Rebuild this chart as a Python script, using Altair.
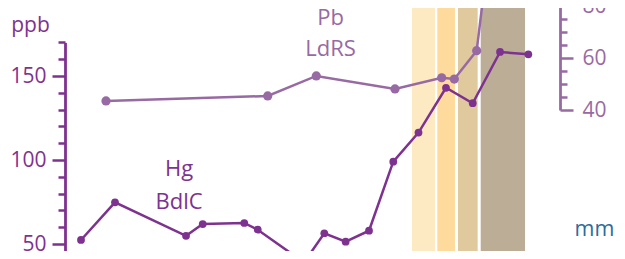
import altair as alt
import pandas as pd

# ---- data (x in mm) ----
hg_x = [1.94, 6.06, 14.67, 16.69, 21.73, 23.36, 28.97, 31.43, 34.02, 36.85,
        39.79, 42.85, 46.18, 49.42, 52.73, 56.16]
hg_ppb = [52.4, 74.8, 54.9, 61.9, 62.5, 58.5, 39.0, 56.4, 51.4, 57.9,
          99.0, 116.3, 143.0, 133.8, 164.3, 162.9]

pb_x = [4.97, 24.57, 30.46, 40.0, 45.66, 47.19, 49.90, 51.52, 55.64]
pb_ppm = [43.5, 45.4, 53.1, 48.1, 52.4, 51.9, 62.8, 105.0, 81.3]

band_start = [42.06, 45.13, 47.64, 50.39]
band_end = [44.85, 47.27, 50.02, 55.76]
band_colors = ["#fde9c2", "#fedb9c", "#dfc99d", "#bbad96"]

hg_label = ["Hg\nBdlC"]
hg_label_x = [13.82]
hg_label_v = [90.7]
pb_label = ["Pb\nLdRS"]
pb_label_x = [32.18]
pb_label_v = [72.7]

left_ticks = list(range(40, 171, 10))
right_ticks = list(range(40, 101, 5))

HG = "#7e3290"
PB = "#986aa3"
MM = "#2d6c9c"
FONT = "Open Sans"

hg_df = pd.DataFrame({"x": hg_x, "v": hg_ppb})
pb_df = pd.DataFrame({"x": pb_x, "v": pb_ppm})
band_df = pd.DataFrame({"x0": band_start, "x1": band_end, "c": band_colors})
hg_lab_df = pd.DataFrame({"x": hg_label_x, "v": hg_label_v, "t": hg_label})
pb_lab_df = pd.DataFrame({"x": pb_label_x, "v": pb_label_v, "t": pb_label})

x_scale = alt.Scale(domain=[0, 60], nice=False, zero=False)
x_axis = alt.Axis(domain=False, ticks=False, labels=False, grid=False,
                  title="mm", titleX=529, titleY=-16, titleAngle=0,
                  titleAlign="center", titleBaseline="alphabetic",
                  titleColor=MM, titleFont=FONT, titleFontSize=21.5,
                  titleFontWeight="normal")
x_enc = alt.X("x:Q", scale=x_scale, axis=x_axis)

left_scale = alt.Scale(domain=[40, 170], range=[252.8, 34.4], nice=False, zero=False)
left_axis = alt.Axis(
    orient="left", values=left_ticks, grid=False,
    labelExpr="datum.value % 50 === 0 ? datum.label : ''",
    tickSize={"condition": {"test": "datum.value % 50 === 0", "value": 13}, "value": 7},
    tickWidth=2.5, domainWidth=2.8, tickColor=HG, domainColor=HG,
    labelColor=HG, labelFont=FONT, labelFontSize=21, labelPadding=6,
    labelBaseline="middle",
    title="ppb", titleX=-35, titleY=23.5, titleAngle=0, titleAlign="center",
    titleBaseline="alphabetic", titleColor=HG, titleFont=FONT,
    titleFontSize=21, titleFontWeight="normal")
y_left = alt.Y("v:Q", scale=left_scale, axis=left_axis)

right_scale = alt.Scale(domain=[40, 120], range=[102, -106], nice=False, zero=False)
right_axis = alt.Axis(
    orient="right", values=right_ticks, grid=False,
    labelExpr="(datum.value % 20 === 0 && datum.value <= 80) ? datum.label : ''",
    tickSize={"condition": {"test": "datum.value % 20 === 0", "value": 13}, "value": 7},
    tickWidth=2.5, domainWidth=2.8, tickColor=PB, domainColor=PB,
    labelColor=PB, labelFont=FONT, labelFontSize=21, labelPadding=9,
    labelBaseline="middle", title=None)
y_right = alt.Y("v:Q", scale=right_scale, axis=right_axis)

bands = alt.Chart(band_df).mark_rect().encode(
    x=alt.X("x0:Q", scale=x_scale, axis=x_axis),
    x2="x1:Q",
    color=alt.Color("c:N", scale=None),
)

pb_line = alt.Chart(pb_df).mark_line(color=PB, strokeWidth=2.5).encode(x=x_enc, y=y_right)
pb_pts = alt.Chart(pb_df).mark_point(color=PB, filled=True, opacity=1, size=85).encode(x=x_enc, y=y_right)
pb_txt = alt.Chart(pb_lab_df).mark_text(
    color=PB, font=FONT, fontSize=22, lineBreak="\n", lineHeight=31,
    align="center", baseline="alphabetic").encode(x=x_enc, y=y_right, text="t:N")
pb_layer = alt.layer(pb_line, pb_pts, pb_txt)

hg_line = alt.Chart(hg_df).mark_line(color=HG, strokeWidth=2.5).encode(x=x_enc, y=y_left)
hg_pts = alt.Chart(hg_df).mark_point(color=HG, filled=True, opacity=1, size=60).encode(x=x_enc, y=y_left)
hg_txt = alt.Chart(hg_lab_df).mark_text(
    color=HG, font=FONT, fontSize=22, lineBreak="\n", lineHeight=33,
    align="center", baseline="alphabetic").encode(x=x_enc, y=y_left, text="t:N")
hg_layer = alt.layer(hg_line, hg_pts, hg_txt)

chart = alt.layer(bands, pb_layer, hg_layer).resolve_scale(y="independent").properties(
    width=495, height=243,
    autosize=alt.AutoSizeParams(type="none"),
    padding={"left": 57, "top": 0, "right": 57, "bottom": 0},
    background="white",
).configure_view(stroke=None)

chart.save("out.html", embed_options={"renderer": "svg", "actions": False})
